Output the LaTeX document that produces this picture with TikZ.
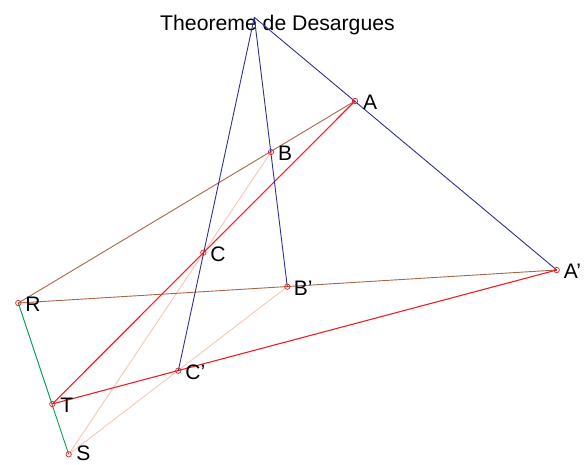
\documentclass[tikz,border=0pt]{standalone}
\usepackage{fontspec}
\setmainfont{Liberation Sans}
\usetikzlibrary{positioning}
\definecolor{axisblue}{RGB}{46,49,146}
\definecolor{sidebrown}{RGB}{168,102,74}
\definecolor{sidered}{RGB}{240,30,36}
\definecolor{sidepink}{RGB}{250,196,180}
\definecolor{sidegreen}{RGB}{0,160,80}

\begin{document}
\begin{tikzpicture}[x=1pt, y=-1pt,
  pt/.style={draw=sidered, circle, line width=0.7pt, minimum size=5.4pt, inner sep=0pt, outer sep=0pt},
  lbl/.style={inner sep=0pt, yshift=-1.5pt, font=\fontsize{21}{25}\selectfont},
  every path/.style={line width=0.9pt}]
  \useasboundingbox (0,0) rectangle (586,464);

  % Points
  \coordinate (O) at (254.3, 17.3);
  \coordinate (A) at (355, 101);
  \coordinate (B) at (271, 152);
  \coordinate (C) at (203.3, 252.7);
  \coordinate (A') at (556.7, 270);
  \coordinate (B') at (287.3, 286.7);
  \coordinate (C') at (178.3, 370.7);
  \coordinate (R) at (18.3, 303);
  \coordinate (T) at (52.3, 404);
  \coordinate (S) at (68.7, 454.3);

  % Title
  \node[anchor=base, inner sep=0pt, font=\fontsize{21.2}{25}\selectfont] (title) at (277.5, 30) {Theoreme de Desargues};

  % Lines
  \draw[sidepink] (B) -- (S);
  \draw[sidepink] (B') -- (S);
  \draw[sidebrown] (A) -- (R);
  \draw[sidebrown] (A') -- (R);
  \draw[sidered, line width=1.1pt] (A) -- (T);
  \draw[sidered, line width=1.1pt] (A') -- (T);
  \draw[sidegreen] (R) -- (S);
  \draw[axisblue] (O) -- (A');
  \draw[axisblue] (O) -- (B');
  \draw[axisblue] (O) -- (C');

  % Markers and labels
  \node[pt] (mA) at (A) {};
  \node[lbl, right=5pt of mA] (lA) {A};
  \node[pt] (mB) at (B) {};
  \node[lbl, right=4pt of mB] (lB) {B};
  \node[pt] (mC) at (C) {};
  \node[lbl, right=4pt of mC] (lC) {C};
  \node[pt] (mA') at (A') {};
  \node[lbl, right=4pt of mA'] (lA') {A'};
  \node[pt] (mB') at (B') {};
  \node[lbl, right=3.5pt of mB'] (lB') {B'};
  \node[pt] (mC') at (C') {};
  \node[lbl, right=4pt of mC'] (lC') {C'};
  \node[pt] (mR) at (R) {};
  \node[lbl, right=4pt of mR] (lR) {R};
  \node[pt] (mT) at (T) {};
  \node[lbl, right=5pt of mT] (lT) {T};
  \node[pt] (mS) at (S) {};
  \node[lbl, right=4.5pt of mS, yshift=2.8pt] (lS) {S};
\end{tikzpicture}
\end{document}
